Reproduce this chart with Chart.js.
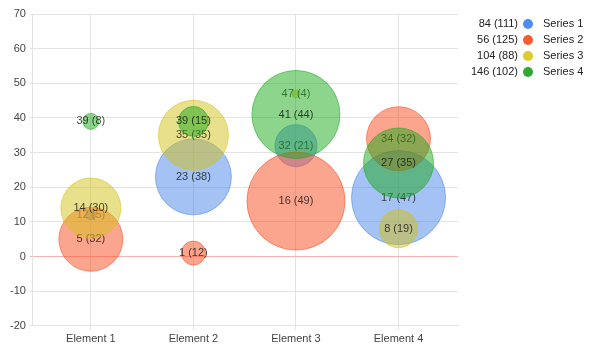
<!DOCTYPE html>
<html>
<head>
<meta charset="utf-8">
<script src="https://cdn.jsdelivr.net/npm/chart.js@4"></script>
<style>
  html, body { margin: 0; padding: 0; background: #fff; }
  #wrap { width: 591px; height: 351px; }
</style>
</head>
<body>
<div id="wrap"><canvas id="chart" width="591" height="351"></canvas></div>
<script>
const categories = ['Element 1', 'Element 2', 'Element 3', 'Element 4'];
const seriesNames = ['Series 1', 'Series 2', 'Series 3', 'Series 4'];

// y value and bubble size for each element
const series1Values = [12, 23, 32, 17];
const series1Sizes = [5, 38, 21, 47];
const series2Values = [5, 1, 16, 34];
const series2Sizes = [32, 12, 49, 32];
const series3Values = [14, 35, 47, 8];
const series3Sizes = [30, 35, 4, 19];
const series4Values = [39, 39, 41, 27];
const series4Sizes = [8, 15, 44, 35];

const yTicks = [-20, -10, 0, 10, 20, 30, 40, 50, 60, 70];

const colors = ['73,133,233', '249,75,29', '211,193,25', '27,169,27'];
const dotColors = ['#4e8ef2', '#fb5a2e', '#dccb2c', '#2eaa2e'];

const allValues = [series1Values, series2Values, series3Values, series4Values];
const allSizes = [series1Sizes, series2Sizes, series3Sizes, series4Sizes];

const FONT = '"Liberation Sans", Arial, sans-serif';

const datasets = seriesNames.map((name, i) => ({
  label: name,
  data: allValues[i].map((v, j) => ({ x: j, y: v, r: allSizes[i][j] })),
  backgroundColor: `rgba(${colors[i]},0.5)`,
  borderColor: `rgba(${colors[i]},0.55)`,
  borderWidth: 1,
  hoverRadius: 0,
  order: seriesNames.length - 1 - i   // later series drawn on top
}));

// text "value (size)" in the middle of each bubble, drawn with its own series
const bubbleLabels = {
  id: 'bubbleLabels',
  afterDatasetDraw(chart, args) {
    const ctx = chart.ctx;
    const ds = chart.data.datasets[args.index];
    ctx.save();
    ctx.font = '11px ' + FONT;
    ctx.textAlign = 'center';
    ctx.textBaseline = 'middle';
    ctx.fillStyle = 'rgba(20,20,20,0.8)';
    args.meta.data.forEach((el, j) => {
      const p = ds.data[j];
      ctx.fillText(`${p.y} (${p.r})`, el.x, el.y);
    });
    ctx.restore();
  }
};

// legend on the right: "sum (sum of sizes)  ●  Series n"
const sideLegend = {
  id: 'sideLegend',
  afterDraw(chart) {
    const ctx = chart.ctx;
    ctx.save();
    ctx.font = '11px ' + FONT;
    ctx.textBaseline = 'middle';
    seriesNames.forEach((name, i) => {
      const y = 24 + i * 16;
      const sumV = allValues[i].reduce((a, b) => a + b, 0);
      const sumR = allSizes[i].reduce((a, b) => a + b, 0);
      ctx.fillStyle = '#222';
      ctx.textAlign = 'right';
      ctx.fillText(`${sumV} (${sumR})`, 518, y);
      ctx.beginPath();
      ctx.arc(528, y, 5, 0, Math.PI * 2);
      ctx.fillStyle = dotColors[i];
      ctx.fill();
      ctx.fillStyle = '#222';
      ctx.textAlign = 'left';
      ctx.fillText(name, 543, y);
    });
    ctx.restore();
  }
};

new Chart(document.getElementById('chart'), {
  type: 'bubble',
  data: { datasets },
  plugins: [bubbleLabels, sideLegend],
  options: {
    responsive: false,
    animation: false,
    clip: false,
    layout: { autoPadding: false, padding: { top: 14, right: 133, left: 6, bottom: 2 } },
    plugins: {
      legend: { display: false },
      tooltip: { enabled: false }
    },
    scales: {
      x: {
        type: 'linear',
        min: -0.565,
        max: 3.58,
        afterBuildTicks(scale) {
          scale.ticks = categories.map((c, i) => ({ value: i }));
        },
        ticks: {
          callback: (v) => categories[v],
          color: '#444',
          font: { size: 11, family: FONT },
          autoSkip: false,
          maxRotation: 0
        },
        grid: { color: '#e3e3e3', tickLength: 4 },
        border: { color: '#e3e3e3' }
      },
      y: {
        min: -20,
        max: 70,
        afterBuildTicks(scale) {
          scale.ticks = yTicks.map(v => ({ value: v }));
        },
        ticks: {
          color: '#444',
          font: { size: 11, family: FONT },
          padding: 4
        },
        grid: {
          color: (c) => c.tick && c.tick.value === 0 ? '#f6b3b3' : '#e3e3e3',
          tickLength: 3
        },
        border: { color: '#e3e3e3' }
      }
    }
  }
});
</script>
</body>
</html>
